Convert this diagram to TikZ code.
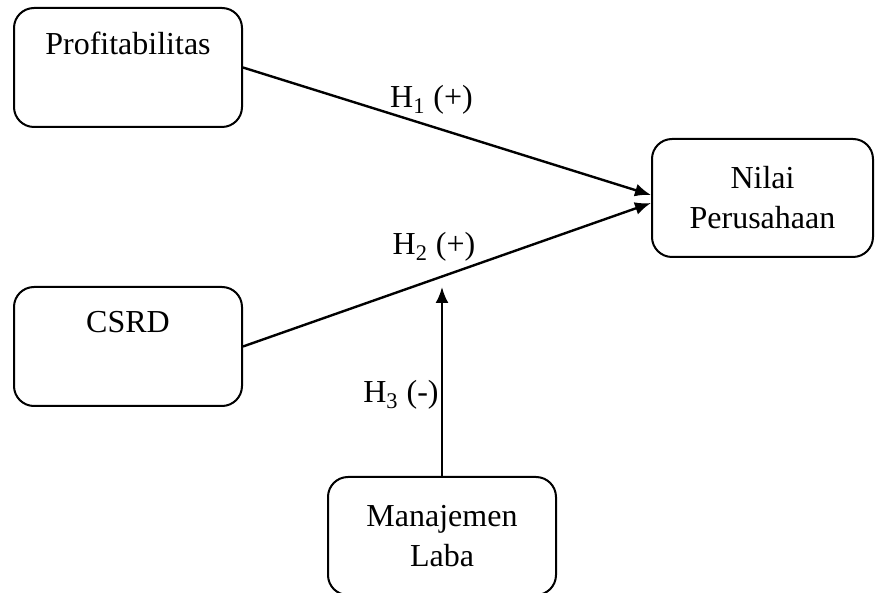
\documentclass[tikz,border=0pt]{standalone}
\usepackage{fontspec}
\setmainfont{Liberation Serif}
\usetikzlibrary{arrows.meta}
\begin{document}
\fontsize{16}{20}\selectfont
\begin{tikzpicture}[>={Latex[length=8pt,width=6.5pt]},x=0.5pt,y=-0.5pt,
  kotak/.style={draw,rounded corners=10pt,line width=1pt,inner sep=0pt,
    minimum width=114pt,minimum height=59pt,align=center},
  panah/.style={->,line width=1.2pt},
  ket/.style={inner sep=0pt,anchor=base}]
  \useasboundingbox (0,0) rectangle (875,593);
  \node[kotak,text height=23.5pt,text depth=36pt] (prof) at (128,67.5) {Profitabilitas};
  \node[kotak,text height=23pt,text depth=36.5pt] (csrd) at (128,346.5) {CSRD};
  \node[kotak,minimum width=110.5pt] (nilai) at (762.5,198) {Nilai\\Perusahaan};
  \node[kotak] (laba) at (442,536) {Manajemen\\Laba};
  \path (laba.north) ++(0,-189) coordinate (mod);
  \draw[panah] (prof.east) -- ([yshift=1.5pt]nilai.west);
  \draw[panah] (csrd.east) -- ([yshift=-2.5pt]nilai.west);
  \draw[panah] (laba.north) -- (mod);
  \node[ket] (h1) at (431.5,108) {H\textsubscript{1} (+)};
  \node[ket] (h2) at (434,255) {H\textsubscript{2} (+)};
  \node[ket,anchor=base east] (h3) at (439,403) {H\textsubscript{3} (-)};
\end{tikzpicture}
\end{document}
